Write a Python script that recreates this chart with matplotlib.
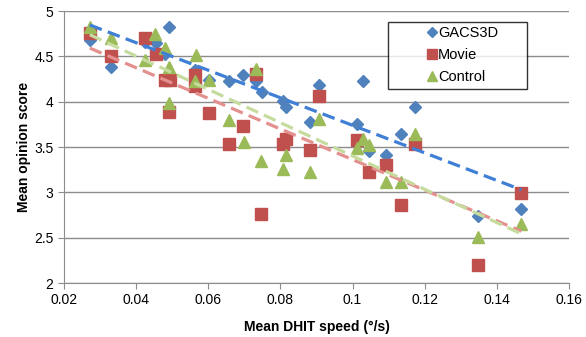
import matplotlib.pyplot as plt
import numpy as np

plt.rcParams['font.family'] = ['Liberation Sans', 'DejaVu Sans']

# Mean DHIT speed (deg/s) and mean opinion score per condition
gacs_x = [0.0272, 0.0330, 0.0426, 0.0454, 0.0479, 0.0491, 0.0563, 0.0601, 0.0657,
          0.0697, 0.0732, 0.0749, 0.0808, 0.0817, 0.0881, 0.0907, 0.1013, 0.1029,
          0.1045, 0.1094, 0.1134, 0.1172, 0.1349, 0.1468]
gacs_y = [4.68, 4.38, 4.66, 4.65, 4.53, 4.83, 4.35, 4.24, 4.23,
          4.30, 4.23, 4.11, 4.01, 3.94, 3.78, 4.19, 3.75, 4.23,
          3.46, 3.41, 3.65, 3.94, 2.74, 2.82]

movie_x = [0.0272, 0.0330, 0.0426, 0.0454, 0.0479, 0.0493, 0.0490, 0.0563, 0.0563,
           0.0601, 0.0657, 0.0697, 0.0732, 0.0746, 0.0808, 0.0817, 0.0881, 0.0907,
           0.1013, 0.1045, 0.1094, 0.1134, 0.1172, 0.1349, 0.1468]
movie_y = [4.76, 4.50, 4.70, 4.53, 4.24, 4.24, 3.89, 4.30, 4.17,
           3.88, 3.53, 3.73, 4.31, 2.76, 3.53, 3.59, 3.47, 4.06,
           3.58, 3.22, 3.30, 2.86, 3.53, 2.20, 2.99]

control_x = [0.0272, 0.0330, 0.0426, 0.0453, 0.0479, 0.0490, 0.0490, 0.0565, 0.0563,
             0.0601, 0.0657, 0.0698, 0.0732, 0.0746, 0.0808, 0.0817, 0.0881, 0.0907,
             0.1013, 0.1029, 0.1045, 0.1094, 0.1134, 0.1172, 0.1349, 0.1468]
control_y = [4.82, 4.70, 4.46, 4.75, 4.59, 4.38, 3.99, 4.52, 4.23,
             4.24, 3.80, 3.56, 4.36, 3.35, 3.26, 3.41, 3.22, 3.81,
             3.49, 3.59, 3.52, 3.12, 3.11, 3.64, 2.51, 2.65]

series = [
    ('GACS3D', gacs_x, gacs_y, 'D', 6.5, '#4F81BD', '#3F7FD6'),
    ('Movie', movie_x, movie_y, 's', 8.5, '#C0504D', '#E3908E'),
    ('Control', control_x, control_y, '^', 8.5, '#9BBB59', '#C6DC9E'),
]

fig = plt.figure(figsize=(5.86, 3.37), dpi=100)
ax = fig.add_axes([0.109, 0.16, 0.862, 0.807])

for name, xs, ys, mk, ms, col, tcol in series:
    xs = np.array(xs)
    ys = np.array(ys)
    ax.plot(xs, ys, linestyle='none', marker=mk, markersize=ms, color=col,
            markeredgecolor=col, label=name, zorder=3)
    # linear trendline over the data range
    k, b = np.polyfit(xs, ys, 1)
    tx = np.array([xs.min(), xs.max()])
    ax.plot(tx, k * tx + b, linestyle=(0, (4, 2)), color=tcol, lw=2.3, zorder=4)

ax.set_xlim(0.02, 0.16)
ax.set_ylim(2, 5)
ax.set_xticks(np.arange(0.02, 0.161, 0.02))
ax.set_xticklabels(['0.02', '0.04', '0.06', '0.08', '0.1', '0.12', '0.14', '0.16'])
ax.set_yticks(np.arange(2, 5.01, 0.5))
ax.set_yticklabels(['2', '2.5', '3', '3.5', '4', '4.5', '5'])
ax.yaxis.grid(True, color='#8c8c8c', lw=1)
ax.set_axisbelow(True)

for s in ['top', 'right']:
    ax.spines[s].set_visible(False)
for s in ['left', 'bottom']:
    ax.spines[s].set_color('#8c8c8c')
ax.tick_params(axis='both', colors='#8c8c8c', labelcolor='black', labelsize=10,
               length=4, direction='out')

ax.set_xlabel('Mean DHIT speed (°/s)', fontsize=10, fontweight='bold', labelpad=9)
ax.set_ylabel('Mean opinion score', fontsize=10, fontweight='bold', labelpad=2)

leg = ax.legend(loc='upper left', bbox_to_anchor=(0.642, 0.715, 0.275, 0.245),
                mode='expand', fontsize=10.5, frameon=True, fancybox=False,
                handlelength=5.4, handletextpad=-2.3, borderpad=0.3,
                labelspacing=0.55, borderaxespad=0, markerscale=0.85)
leg.get_frame().set_edgecolor('black')
leg.get_frame().set_linewidth(1)

fig.savefig('out.png', dpi=100)
